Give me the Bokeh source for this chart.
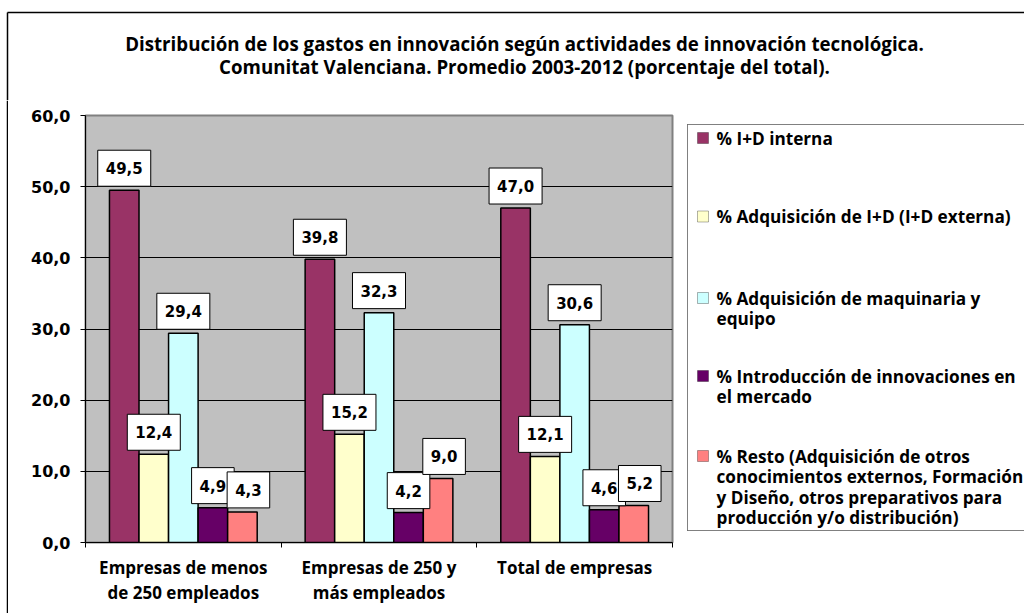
from bokeh.plotting import figure
from bokeh.layouts import column, row
from bokeh.models import (ColumnDataSource, FixedTicker, Label, Span,
                          BoxAnnotation, Range1d)
from bokeh.embed import file_html
from bokeh.resources import INLINE

# ---------------- data ----------------
title_lines = [
    "Distribución de los gastos en innovación según actividades de innovación tecnológica.",
    "Comunitat Valenciana. Promedio 2003-2012 (porcentaje del total).",
]
categories = ["Empresas de menos\nde 250 empleados",
              "Empresas de 250 y\nmás empleados",
              "Total de empresas"]
series_names = [
    "% I+D interna",
    "% Adquisición de  I+D (I+D externa)",
    "% Adquisición de maquinaria y\nequipo",
    "% Introducción de innovaciones en\nel mercado",
    "% Resto (Adquisición de otros\nconocimientos externos, Formación\ny Diseño, otros preparativos para\nproducción y/o distribución)",
]
id_interna = [49.5, 39.8, 47.0]
id_externa = [12.4, 15.2, 12.1]
maquinaria = [29.4, 32.3, 30.6]
introduccion = [4.9, 4.2, 4.6]
resto = [4.3, 9.0, 5.2]
series_values = [id_interna, id_externa, maquinaria, introduccion, resto]
colors = ["#993366", "#FFFFCC", "#CCFFFF", "#660066", "#FF8080"]
y_ticks = [0, 10, 20, 30, 40, 50, 60]
y_tick_labels = ["0,0", "10,0", "20,0", "30,0", "40,0", "50,0", "60,0"]

# ---------------- layout constants (pixels) ----------------
W, H = 1024, 613
TH = 100                    # title strip height
SW = 8                      # left border strip width
MW = 674                    # main figure width
LW = W - SW - MW            # legend figure width
RH = H - TH                 # lower row height
BT, BB = 15, 71             # main frame top / bottom borders
FTOP, FBOT = TH + BT, H - BB  # main frame top / bottom in page pixels
BW = 0.151                  # bar width (fraction of a category)

SANS = "Open Sans"
VERD = "DejaVu Sans"


def blank(width, height, xr, yr, **kw):
    opts = dict(min_border=0)
    opts.update(kw)
    f = figure(width=width, height=height, x_range=xr, y_range=yr,
               output_backend="svg", toolbar_location=None, title=None,
               x_axis_location=None, y_axis_location=None,
               outline_line_color=None, background_fill_color="white",
               border_fill_color="white", **opts)
    f.grid.visible = False
    if "frame_align" in f.properties():
        f.frame_align = False
    return f


# ---------------- title strip ----------------
t = blank(W, TH, Range1d(0, W), Range1d(TH, 0))
t.segment(x0=[7, 7], y0=[12, 12], x1=[7, W + 10], y1=[TH + 10, 12],
          line_color="black", line_width=1.5)
for i, txt in enumerate(title_lines):
    t.add_layout(Label(x=524, y=43 + i * 23, text=txt, text_align="center",
                       text_baseline="middle", text_font=SANS, text_font_style="bold",
                       text_font_size="18.7px", text_color="black"))

# ---------------- left border strip ----------------
s = blank(SW, RH, Range1d(0, SW), Range1d(0, RH))
s.add_layout(Span(location=7, dimension="height", line_color="black", line_width=1.5))

# ---------------- main chart ----------------
p = figure(width=MW, height=RH, x_range=Range1d(0, 3), y_range=Range1d(0, 60),
           output_backend="svg", toolbar_location=None, title=None,
           min_border_left=77, min_border_top=BT, min_border_right=10,
           min_border_bottom=BB)
p.background_fill_color = "#C0C0C0"
p.border_fill_color = "white"
p.outline_line_color = "#808080"
p.outline_line_width = 2
p.xgrid.visible = False
p.ygrid.ticker = FixedTicker(ticks=y_ticks)
p.ygrid.grid_line_color = "black"
p.ygrid.grid_line_width = 1

yax = p.yaxis[0]
yax.ticker = FixedTicker(ticks=y_ticks)
yax.major_label_overrides = dict(zip(y_ticks, y_tick_labels))
yax.minor_tick_line_color = None
yax.major_tick_in = 0
yax.major_tick_out = 5
yax.major_tick_line_color = "black"
yax.axis_line_color = "black"
yax.major_label_standoff = 10
yax.major_label_text_font = VERD
yax.major_label_text_font_style = "bold"
yax.major_label_text_font_size = "16px"
yax.major_label_text_color = "black"

centers = [i + 0.5 for i in range(len(categories))]
bounds = [i for i in range(len(categories) + 1)]
xax = p.xaxis[0]
xax.ticker = FixedTicker(ticks=centers, minor_ticks=bounds)
xax.major_label_overrides = dict(zip(centers, categories))
xax.major_tick_in = 0
xax.major_tick_out = 0
xax.minor_tick_in = 0
xax.minor_tick_out = 5
xax.minor_tick_line_color = "black"
xax.axis_line_color = "black"
xax.major_label_standoff = 8
xax.major_label_text_font = SANS
xax.major_label_text_font_style = "bold"
xax.major_label_text_font_size = "17px"
xax.major_label_text_color = "black"
xax.major_label_text_line_height = 1.1

label_dx = [0, 0, 0, 0, 6]
for k, (vals, col) in enumerate(zip(series_values, colors)):
    xs = [c + (k - 2) * BW for c in centers]
    src = ColumnDataSource(dict(x=xs, top=vals))
    p.vbar(x="x", top="top", width=BW, source=src, fill_color=col,
           line_color="black", line_width=1.5)
    for xv, v in zip(xs, vals):
        p.add_layout(Label(x=xv, y=v, text=f"{v:.1f}".replace(".", ","),
                           text_align="center", text_baseline="bottom",
                           y_offset=4, x_offset=label_dx[k],
                           text_font=VERD, text_font_style="bold", text_font_size="15px",
                           text_color="black", background_fill_color="white",
                           border_line_color="black", border_line_width=1,
                           padding=dict(left=8, right=8, top=12, bottom=12)))

# ---------------- legend (y in page pixels, frame = main frame rows) ----------------
lg = blank(LW, RH, Range1d(0, LW), Range1d(FBOT, FTOP),
           min_border_top=BT, min_border_bottom=BB, min_border_left=0, min_border_right=0)
box_l, box_t, box_b = 5, 124, 530
lg.add_layout(BoxAnnotation(left=box_l, right=LW, top=box_t, bottom=box_b,
                            fill_color="white", fill_alpha=1, line_alpha=0))
lg.segment(x0=[box_l, box_l, box_l], y0=[box_t, box_b, box_t],
           x1=[LW + 10, LW + 10, box_l], y1=[box_t, box_b, box_b],
           line_color="black", line_width=1)
entry_y = [137.5, 216, 297.5, 375.5, 455.5]
LS = 20.5
for name, col, ey in zip(series_names, colors, entry_y):
    lg.add_layout(BoxAnnotation(left=15, right=26, top=ey - 5.5, bottom=ey + 5.5,
                                fill_color=col, fill_alpha=1,
                                line_color="black", line_width=1))
    for j, line in enumerate(name.split("\n")):
        lg.add_layout(Label(x=34, y=ey + j * LS, text=line, text_align="left",
                            text_baseline="middle", text_font=SANS,
                            text_font_style="bold", text_font_size="17.2px",
                            text_color="black"))

layout = column(t, row(s, p, lg))
open("out.html", "w").write(file_html(layout, INLINE))
